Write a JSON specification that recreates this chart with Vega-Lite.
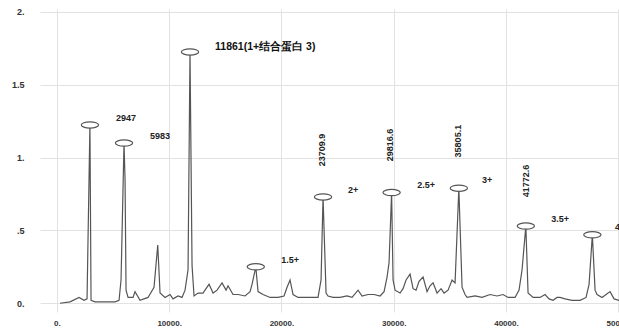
{
  "$schema": "https://vega.github.io/schema/vega-lite/v6.json",
  "autosize": {"type": "none"},
  "padding": {"left": 40, "top": 9, "right": 0, "bottom": 17},
  "width": 579,
  "height": 303,
  "background": "white",
  "config": {
    "view": {"stroke": null},
    "font": "Liberation Sans",
    "axis": {"grid": true, "gridColor": "#e2e2e2", "gridWidth": 1, "domain": false, "ticks": false, "labelColor": "#333", "labelFontWeight": "bold", "labelFontSize": 8, "title": null}
  },
  "datasets": {
    "trace": [
      {"mz": 285, "intensity": 0.0}, {"mz": 1176, "intensity": 0.01}, {"mz": 1977, "intensity": 0.04}, {"mz": 2423, "intensity": 0.02}, {"mz": 2690, "intensity": 0.03}, {"mz": 2947, "intensity": 1.224}, {"mz": 3046, "intensity": 0.02}, {"mz": 3402, "intensity": 0.01}, {"mz": 4293, "intensity": 0.01}, {"mz": 5184, "intensity": 0.01}, {"mz": 5540, "intensity": 0.02}, {"mz": 5718, "intensity": 0.16}, {"mz": 5983, "intensity": 1.10}, {"mz": 6075, "intensity": 0.85}, {"mz": 6164, "intensity": 0.09}, {"mz": 6342, "intensity": 0.04}, {"mz": 6787, "intensity": 0.04}, {"mz": 6965, "intensity": 0.08}, {"mz": 7410, "intensity": 0.02}, {"mz": 8123, "intensity": 0.04}, {"mz": 8657, "intensity": 0.11}, {"mz": 8987, "intensity": 0.40}, {"mz": 9192, "intensity": 0.07}, {"mz": 9637, "intensity": 0.04}, {"mz": 10082, "intensity": 0.06}, {"mz": 10349, "intensity": 0.03}, {"mz": 10795, "intensity": 0.05}, {"mz": 11151, "intensity": 0.04}, {"mz": 11418, "intensity": 0.09}, {"mz": 11686, "intensity": 0.23}, {"mz": 11861, "intensity": 1.725}, {"mz": 12042, "intensity": 0.26}, {"mz": 12220, "intensity": 0.05}, {"mz": 12577, "intensity": 0.07}, {"mz": 13022, "intensity": 0.07}, {"mz": 13289, "intensity": 0.10}, {"mz": 13556, "intensity": 0.13}, {"mz": 13913, "intensity": 0.07}, {"mz": 14269, "intensity": 0.09}, {"mz": 14714, "intensity": 0.14}, {"mz": 15071, "intensity": 0.09}, {"mz": 15249, "intensity": 0.12}, {"mz": 15694, "intensity": 0.06}, {"mz": 16140, "intensity": 0.06}, {"mz": 16763, "intensity": 0.05}, {"mz": 17208, "intensity": 0.08}, {"mz": 17386, "intensity": 0.13}, {"mz": 17720, "intensity": 0.25}, {"mz": 17921, "intensity": 0.08}, {"mz": 18366, "intensity": 0.06}, {"mz": 18990, "intensity": 0.04}, {"mz": 19702, "intensity": 0.04}, {"mz": 20237, "intensity": 0.05}, {"mz": 20504, "intensity": 0.11}, {"mz": 20771, "intensity": 0.16}, {"mz": 21038, "intensity": 0.06}, {"mz": 21484, "intensity": 0.04}, {"mz": 22107, "intensity": 0.04}, {"mz": 22731, "intensity": 0.04}, {"mz": 23265, "intensity": 0.04}, {"mz": 23533, "intensity": 0.16}, {"mz": 23710, "intensity": 0.73}, {"mz": 23978, "intensity": 0.07}, {"mz": 24156, "intensity": 0.05}, {"mz": 24601, "intensity": 0.04}, {"mz": 25225, "intensity": 0.04}, {"mz": 25848, "intensity": 0.05}, {"mz": 26294, "intensity": 0.04}, {"mz": 26828, "intensity": 0.09}, {"mz": 27185, "intensity": 0.05}, {"mz": 27719, "intensity": 0.06}, {"mz": 28254, "intensity": 0.06}, {"mz": 28788, "intensity": 0.05}, {"mz": 29145, "intensity": 0.08}, {"mz": 29412, "intensity": 0.18}, {"mz": 29590, "intensity": 0.28}, {"mz": 29817, "intensity": 0.76}, {"mz": 29946, "intensity": 0.16}, {"mz": 30124, "intensity": 0.09}, {"mz": 30570, "intensity": 0.07}, {"mz": 30837, "intensity": 0.10}, {"mz": 31104, "intensity": 0.16}, {"mz": 31460, "intensity": 0.20}, {"mz": 31728, "intensity": 0.10}, {"mz": 31995, "intensity": 0.09}, {"mz": 32262, "intensity": 0.15}, {"mz": 32618, "intensity": 0.18}, {"mz": 32975, "intensity": 0.08}, {"mz": 33242, "intensity": 0.12}, {"mz": 33509, "intensity": 0.14}, {"mz": 33865, "intensity": 0.07}, {"mz": 34222, "intensity": 0.10}, {"mz": 34489, "intensity": 0.07}, {"mz": 34845, "intensity": 0.09}, {"mz": 35201, "intensity": 0.16}, {"mz": 35469, "intensity": 0.14}, {"mz": 35805, "intensity": 0.79}, {"mz": 36091, "intensity": 0.11}, {"mz": 36358, "intensity": 0.06}, {"mz": 36537, "intensity": 0.04}, {"mz": 37249, "intensity": 0.05}, {"mz": 37873, "intensity": 0.04}, {"mz": 38585, "intensity": 0.06}, {"mz": 39209, "intensity": 0.05}, {"mz": 39743, "intensity": 0.06}, {"mz": 40189, "intensity": 0.04}, {"mz": 40812, "intensity": 0.04}, {"mz": 41168, "intensity": 0.09}, {"mz": 41436, "intensity": 0.23}, {"mz": 41773, "intensity": 0.53}, {"mz": 41970, "intensity": 0.07}, {"mz": 42415, "intensity": 0.04}, {"mz": 43038, "intensity": 0.04}, {"mz": 43484, "intensity": 0.06}, {"mz": 43840, "intensity": 0.03}, {"mz": 44196, "intensity": 0.02}, {"mz": 44553, "intensity": 0.04}, {"mz": 44820, "intensity": 0.04}, {"mz": 45266, "intensity": 0.03}, {"mz": 45889, "intensity": 0.02}, {"mz": 46602, "intensity": 0.02}, {"mz": 47136, "intensity": 0.04}, {"mz": 47403, "intensity": 0.13}, {"mz": 47697, "intensity": 0.47}, {"mz": 47938, "intensity": 0.09}, {"mz": 48116, "intensity": 0.06}, {"mz": 48562, "intensity": 0.04}, {"mz": 48918, "intensity": 0.06}, {"mz": 49274, "intensity": 0.08}, {"mz": 49631, "intensity": 0.03}, {"mz": 50076, "intensity": 0.02}
    ],
    "peaks": [
      {"mz": 2947, "intensity": 1.224}, {"mz": 5983, "intensity": 1.10}, {"mz": 11861, "intensity": 1.725}, {"mz": 17720, "intensity": 0.25}, {"mz": 23710, "intensity": 0.73}, {"mz": 29817, "intensity": 0.76}, {"mz": 35805, "intensity": 0.79}, {"mz": 41773, "intensity": 0.53}, {"mz": 47697, "intensity": 0.47}
    ],
    "labels": [
      {"mz": 6164, "intensity": 1.271, "text": "2947"},
      {"mz": 9192, "intensity": 1.148, "text": "5983"},
      {"mz": 20771, "intensity": 0.297, "text": "1.5+"},
      {"mz": 26383, "intensity": 0.778, "text": "2+"},
      {"mz": 32885, "intensity": 0.812, "text": "2.5+"},
      {"mz": 38318, "intensity": 0.846, "text": "3+"},
      {"mz": 44820, "intensity": 0.579, "text": "3.5+"}
    ],
    "leftlabels": [
      {"mz": 49720, "intensity": 0.524, "text": "4+"}
    ],
    "titlelabel": [
      {"mz": 14093, "intensity": 1.761, "text": "11861(1+结合蛋白 3)"}
    ],
    "vlabels": [
      {"mz": 23621, "intensity": 1.052, "text": "23709.9"},
      {"mz": 29678, "intensity": 1.087, "text": "29816.6"},
      {"mz": 35735, "intensity": 1.113, "text": "35805.1"},
      {"mz": 41791, "intensity": 0.839, "text": "41772.6"}
    ]
  },
  "encoding": {
    "x": {"field": "mz", "type": "quantitative", "scale": {"domain": [-1500, 50070], "nice": false, "zero": false},
      "axis": {"values": [0, 10000, 20000, 30000, 40000, 50000], "labelExpr": "datum.value + '.'", "labelPadding": 7, "labelFlush": false}},
    "y": {"field": "intensity", "type": "quantitative", "scale": {"domain": [-0.06, 2.02], "nice": false, "zero": false},
      "axis": {"values": [0, 0.5, 1, 1.5, 2], "labelExpr": "datum.value == 0 ? '0.' : datum.value == 0.5 ? '.5' : datum.value == 1 ? '1.' : datum.value == 1.5 ? '1.5' : '2.'", "labelPadding": 16, "labelFontSize": 9}}
  },
  "layer": [
    {"data": {"name": "trace"}, "mark": {"type": "line", "color": "#555", "strokeWidth": 1.2, "interpolate": "linear"}},
    {"data": {"name": "peaks"}, "mark": {"type": "point", "shape": "M-1,0 A1,0.36 0 1,1 1,0 A1,0.36 0 1,1 -1,0 Z", "size": 300, "filled": false, "fill": "white", "fillOpacity": 1, "stroke": "#555", "strokeWidth": 1.2, "opacity": 1}},
    {"data": {"name": "labels"}, "mark": {"type": "text", "fontSize": 9, "fontWeight": "bold", "color": "#222", "align": "center", "baseline": "middle"},
      "encoding": {"text": {"field": "text"}}},
    {"data": {"name": "leftlabels"}, "mark": {"type": "text", "fontSize": 9, "fontWeight": "bold", "color": "#222", "align": "left", "baseline": "middle"},
      "encoding": {"text": {"field": "text"}}},
    {"data": {"name": "titlelabel"}, "mark": {"type": "text", "fontSize": 10.5, "fontWeight": "bold", "color": "#111", "align": "left", "baseline": "middle"},
      "encoding": {"text": {"field": "text"}}},
    {"data": {"name": "vlabels"}, "mark": {"type": "text", "fontSize": 9, "fontWeight": "bold", "color": "#222", "angle": 270, "align": "center", "baseline": "middle"},
      "encoding": {"text": {"field": "text"}}}
  ]
}
